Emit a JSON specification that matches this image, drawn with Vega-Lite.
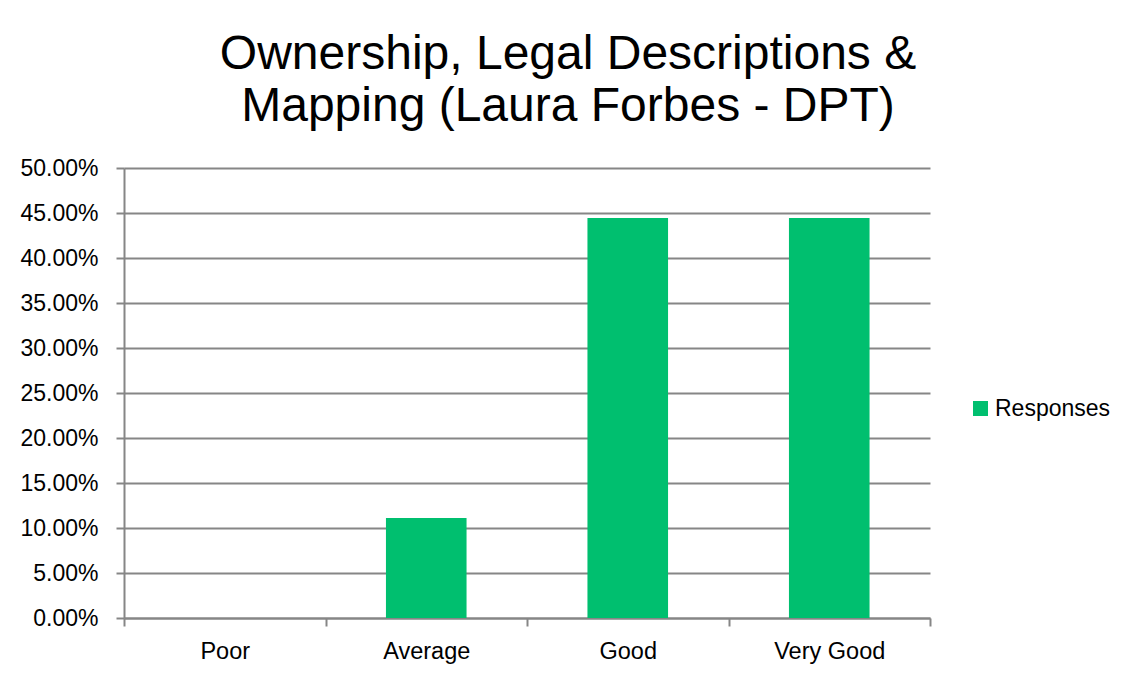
{
  "$schema": "https://vega.github.io/schema/vega-lite/v6.json",
  "width": 806,
  "height": 450,
  "autosize": {"type": "none"},
  "padding": {"left": 124, "top": 168, "right": 204, "bottom": 66},
  "background": "white",
  "title": {
    "text": ["Ownership, Legal Descriptions &", "Mapping (Laura Forbes - DPT)"],
    "font": "Liberation Sans",
    "fontSize": 48,
    "fontWeight": "normal",
    "color": "black",
    "anchor": "middle",
    "dx": 41,
    "offset": 26,
    "lineHeight": 52
  },
  "data": {
    "values": [
      {"rating": "Poor", "value": 0, "series": "Responses"},
      {"rating": "Average", "value": 0.1111, "series": "Responses"},
      {"rating": "Good", "value": 0.4444, "series": "Responses"},
      {"rating": "Very Good", "value": 0.4444, "series": "Responses"}
    ]
  },
  "mark": {"type": "bar", "width": {"band": 0.4}},
  "encoding": {
    "x": {
      "field": "rating",
      "type": "nominal",
      "sort": ["Poor", "Average", "Good", "Very Good"],
      "scale": {"paddingInner": 0, "paddingOuter": 0},
      "axis": {
        "title": null,
        "labelAngle": 0,
        "labelFont": "Liberation Sans",
        "labelFontSize": 23.5,
        "labelColor": "black",
        "labelPadding": 13,
        "tickBand": "extent",
        "tickSize": 8,
        "tickColor": "#868686",
        "tickWidth": 2,
        "domainColor": "#868686",
        "domainWidth": 2,
        "grid": false
      }
    },
    "y": {
      "field": "value",
      "type": "quantitative",
      "scale": {"domain": [0, 0.5], "nice": false},
      "axis": {
        "title": null,
        "format": ".2%",
        "values": [0, 0.05, 0.1, 0.15, 0.2, 0.25, 0.3, 0.35, 0.4, 0.45, 0.5],
        "labelFont": "Liberation Sans",
        "labelFontSize": 23,
        "labelColor": "black",
        "labelPadding": 18,
        "tickSize": 8,
        "tickColor": "#868686",
        "tickWidth": 2,
        "domainColor": "#868686",
        "domainWidth": 2,
        "grid": true,
        "gridColor": "#868686",
        "gridWidth": 2
      }
    },
    "color": {
      "field": "series",
      "type": "nominal",
      "scale": {"range": ["#00BF6F"]},
      "legend": {
        "title": null,
        "orient": "none",
        "legendX": 845,
        "legendY": 229,
        "symbolType": "square",
        "symbolSize": 225,
        "symbolStrokeWidth": 0,
        "symbolOpacity": 1,
        "labelFont": "Liberation Sans",
        "labelFontSize": 23,
        "labelColor": "black",
        "labelOffset": 3
      }
    }
  },
  "config": {"view": {"stroke": null}}
}
